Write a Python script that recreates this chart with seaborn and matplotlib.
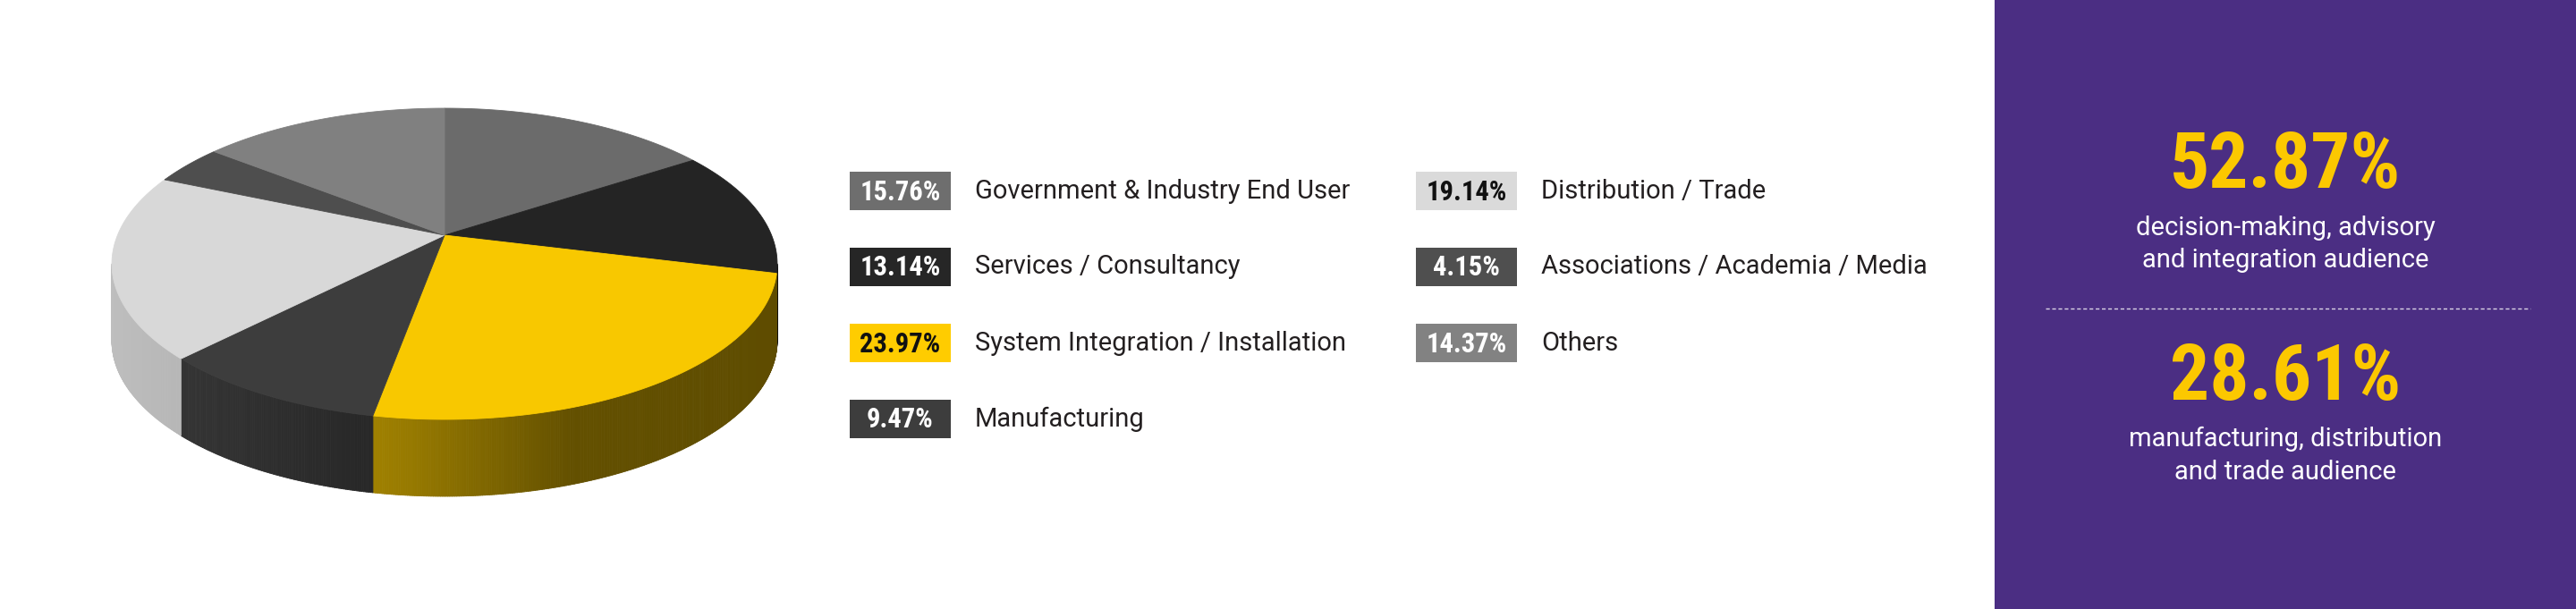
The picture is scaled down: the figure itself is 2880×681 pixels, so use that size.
import numpy as np
import matplotlib
matplotlib.use("Agg")
import matplotlib.pyplot as plt
from matplotlib.patches import Polygon, Rectangle
from matplotlib.collections import PolyCollection
import matplotlib.colors as mcolors
import seaborn as sns

# data
categories = ["Government & Industry End User", "Services / Consultancy",
              "System Integration / Installation", "Manufacturing",
              "Distribution / Trade", "Associations / Academia / Media", "Others"]
shares = [15.76, 13.14, 23.97, 9.47, 19.14, 4.15, 14.37]
share_labels = ["15.76%", "13.14%", "23.97%", "9.47%", "19.14%", "4.15%", "14.37%"]

summary_values = ["52.87%", "28.61%"]
summary_lines = [["decision-making, advisory", "and integration audience"],
                 ["manufacturing, distribution", "and trade audience"]]

# styles
slice_colors = ["#6b6b6b", "#242424", "#f8c800", "#3d3d3d", "#d8d8d8", "#4e4e4e", "#808080"]
swatch_colors = ["#6e6e6e", "#262626", "#ffcc00", "#3d3d3d", "#dadada", "#4f4f4f", "#828282"]
swatch_text = ["white", "white", "#111111", "white", "#111111", "white", "white"]
purple = "#4b2e83"
gold = "#fcc800"

sns.set_theme(style="white")
plt.rcParams["font.family"] = ["Roboto", "DejaVu Sans"]
cond = ["Roboto Condensed", "DejaVu Sans"]

fig = plt.figure(figsize=(28.8, 6.81), dpi=100)
ax = fig.add_axes([0, 0, 1, 1])
ax.set_xlim(0, 2880)
ax.set_ylim(681, 0)
ax.axis("off")

# ---- 3D pie (simple perspective projection of a disc) ----
cx, cy = 497, 263        # projected centre of the disc
k = 0.184                # perspective strength
A, B = 365.6, 168.1      # horizontal / vertical radius scale
depth = 86


def project(phi):
    X, Z = np.sin(phi), np.cos(phi)
    w = 1 + k * Z
    return cx + A * X / w, cy - B * Z / w


def side_shade(u):
    return np.interp(u, [120, 212, 465, 640, 875], [0.88, 0.84, 0.6, 0.40, 0.38])


bounds = np.radians(np.concatenate([[0], np.cumsum(shares)]) * 3.6)
phi_l, phi_r = np.arccos(-k), 2 * np.pi - np.arccos(-k)

# side walls
for i, col in enumerate(slice_colors):
    lo, hi = max(bounds[i], phi_l), min(bounds[i + 1], phi_r)
    if lo >= hi:
        continue
    ts = np.linspace(lo, hi, max(int(np.degrees(hi - lo) * 3), 2))
    u, v = project(ts)
    rgb = np.array(mcolors.to_rgb(col))
    polys, cols = [], []
    for j in range(len(ts) - 1):
        polys.append([(u[j], v[j]), (u[j + 1], v[j + 1]),
                      (u[j + 1], v[j + 1] + depth), (u[j], v[j] + depth)])
        cols.append(np.clip(rgb * side_shade((u[j] + u[j + 1]) / 2), 0, 1))
    ax.add_collection(PolyCollection(polys, facecolors=cols, edgecolors=cols, linewidths=0.6))

# top face
for i, col in enumerate(slice_colors):
    ts = np.linspace(bounds[i], bounds[i + 1], 200)
    u, v = project(ts)
    pts = np.column_stack([np.r_[cx, u], np.r_[cy, v]])
    ax.add_patch(Polygon(pts, closed=True, facecolor=col, edgecolor=col, lw=0.6))

# ---- legend ----
sw_x0, sw_y0 = 950, 192
col_gap, row_gap = 633, 85
sw_w, sw_h = 113, 43
for i, name in enumerate(categories):
    c, r = divmod(i, 4)
    x = sw_x0 + c * col_gap
    y = sw_y0 + r * row_gap
    ax.add_patch(Rectangle((x, y), sw_w, sw_h, facecolor=swatch_colors[i], edgecolor="none"))
    ax.text(x + sw_w / 2, y + sw_h / 2 + 1, share_labels[i], ha="center", va="center",
            fontsize=22, fontweight="bold", family=cond, color=swatch_text[i])
    ax.text(x + 140, y + sw_h / 2, name, ha="left", va="center",
            fontsize=21, fontweight="normal", color="#231f20")

# ---- summary panel ----
ax.add_patch(Rectangle((2230, 0), 650, 681, facecolor=purple, edgecolor="none"))
pcx = 2555
num_base = [210, 447]
line_base = [[263, 299], [499, 536]]
for val, lines, nb, lb in zip(summary_values, summary_lines, num_base, line_base):
    ax.text(pcx, nb, val, ha="center", va="baseline", fontsize=63, fontweight="bold",
            family=cond, color=gold)
    for txt, b in zip(lines, lb):
        ax.text(pcx, b, txt, ha="center", va="baseline", fontsize=21,
                fontweight="normal", color="white")
ax.plot([2287, 2829], [345, 345], color="white", alpha=0.8, lw=1, ls=(0, (3, 2)))

fig.savefig("out.png", dpi=100)
